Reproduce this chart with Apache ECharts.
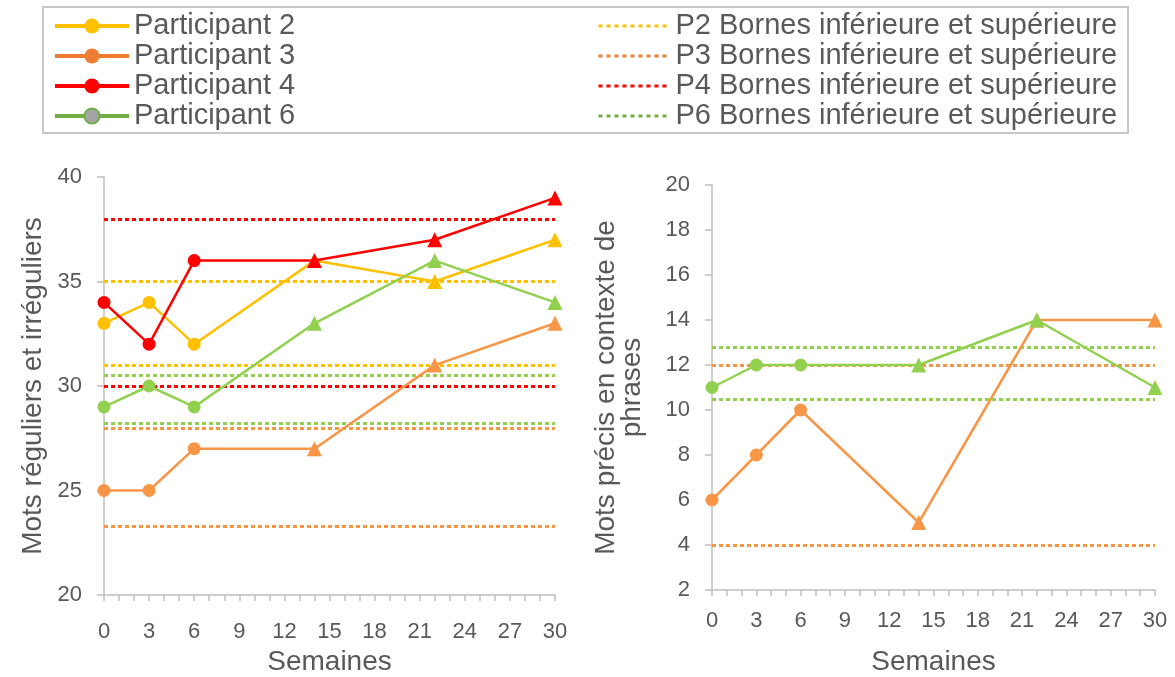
<!DOCTYPE html>
<html>
<head>
<meta charset="utf-8">
<script src="https://cdn.jsdelivr.net/npm/echarts@6/dist/echarts.min.js"></script>
<style>
html,body{margin:0;padding:0;background:#fff;}
#c{width:1175px;height:677px;}
</style>
</head>
<body>
<div id="c"></div>
<script>
// ---- data ----
const weeks = [0, 3, 6, 14, 22, 30];
const seriesNames = ['Participant 2', 'Participant 3', 'Participant 4', 'Participant 6'];
const boundNames = ['P2 Bornes inférieure et supérieure', 'P3 Bornes inférieure et supérieure',
                    'P4 Bornes inférieure et supérieure', 'P6 Bornes inférieure et supérieure'];
// Left chart: Mots réguliers et irréguliers
const leftP2 = [33, 34, 32, 36, 35, 37];
const leftP3 = [25, 25, 27, 27, 31, 33];
const leftP4 = [34, 32, 36, 36, 37, 39];
const leftP6 = [29, 30, 29, 33, 36, 34];
const leftBoundsP2 = [31, 35];
const leftBoundsP3 = [23.3, 28.0];
const leftBoundsP4 = [30, 38];
const leftBoundsP6 = [28.2, 30.5];
// Right chart: Mots précis en contexte de phrases
const rightP3 = [6, 8, 10, 5, 14, 14];
const rightP6 = [11, 12, 12, 12, 14, 11];
const rightBoundsP3 = [4, 12];
const rightBoundsP6 = [10.5, 12.8];
// baseline phase weeks use circles, later ones triangles
const baselineWeeks = [0, 3, 6];

// ---- styles ----
const chartColors = ['#FFC000', '#F79646', '#FF0000', '#92D050'];
const legendColors = ['#FFC000', '#ED7D31', '#FF0000', '#70AD47'];
const legendMarker = ['#FFC000', '#ED7D31', '#FF0000', '#A5A5A5'];
const textColor = '#595959';
const axisColor = '#BFBFBF';
const font = 'Liberation Sans, Arial, sans-serif';

function pts(vals) {
  return weeks.map((w, i) => ({
    value: [w, vals[i]],
    symbol: baselineWeeks.indexOf(w) >= 0 ? 'circle' : 'triangle',
    symbolSize: baselineWeeks.indexOf(w) >= 0 ? 13 : 15
  }));
}
function dataSeries(idx, vals, gi) {
  return {
    name: seriesNames[idx], type: 'line', xAxisIndex: gi, yAxisIndex: gi,
    data: pts(vals), symbol: 'circle', showAllSymbol: true,
    lineStyle: { color: chartColors[idx], width: 2.5 },
    itemStyle: { color: chartColors[idx] },
    z: 5, animation: false, silent: true
  };
}
function boundSeries(idx, b, gi) {
  return {
    name: boundNames[idx], type: 'line', xAxisIndex: gi, yAxisIndex: gi,
    data: [], symbol: 'none',
    lineStyle: { color: chartColors[idx], width: 3, type: [4, 3] },
    itemStyle: { color: chartColors[idx] },
    markLine: {
      silent: true, symbol: ['none', 'none'], label: { show: false },
      lineStyle: { color: chartColors[idx], width: 3, type: [4, 3] },
      emphasis: { disabled: true },
      data: b.map(v => ({ yAxis: v }))
    },
    z: 2, animation: false
  };
}
function xAxis(gi, nameGap, labelMargin) {
  return {
    type: 'value', gridIndex: gi, min: 0, max: 30, interval: 3,
    name: 'Semaines', nameLocation: 'middle', nameGap: nameGap,
    nameTextStyle: { color: textColor, fontSize: 28, fontFamily: font },
    axisLine: { show: true, lineStyle: { color: axisColor, width: 1.5 } },
    axisTick: { show: true, length: 6, lineStyle: { color: axisColor, width: 1.5 } },
    minorTick: { show: true, splitNumber: 3, length: 6, lineStyle: { color: axisColor, width: 1.5 } },
    axisLabel: { color: textColor, fontSize: 22, fontFamily: font, margin: labelMargin },
    splitLine: { show: false }
  };
}
function yAxis(gi, min, max, interval, name, nameGap, extra) {
  return Object.assign({
    type: 'value', gridIndex: gi, min: min, max: max, interval: interval,
    name: name, nameLocation: 'middle', nameGap: nameGap, nameRotate: 90,
    nameTextStyle: { color: textColor, fontSize: 28, fontFamily: font },
    axisLine: { show: true, lineStyle: { color: axisColor, width: 1.5 } },
    axisTick: { show: true, length: 7, lineStyle: { color: axisColor, width: 1.5 } },
    axisLabel: { color: textColor, fontSize: 22, fontFamily: font, margin: 22 },
    splitLine: { show: false }
  }, extra || {});
}

const legendText = { color: textColor, fontSize: 29, fontFamily: font, lineHeight: 30 };

const option = {
  backgroundColor: '#fff',
  animation: false,
  graphic: [{
    type: 'rect', shape: { x: 43, y: 7, width: 1085, height: 126 },
    style: { fill: 'none', stroke: '#C8C8C8', lineWidth: 2 }, silent: true
  }],
  legend: [{
    orient: 'vertical', left: 48, top: 6, itemGap: 0, itemWidth: 74, itemHeight: 19,
    textStyle: legendText, selectedMode: false,
    data: seriesNames.map((n, i) => ({
      name: n,
      itemStyle: { color: legendMarker[i], borderColor: legendColors[i], borderWidth: i === 3 ? 2 : 0 },
      lineStyle: { color: legendColors[i], width: 4 }
    }))
  }, {
    orient: 'vertical', left: 592, top: 6, itemGap: 0, itemWidth: 72, itemHeight: 15,
    textStyle: legendText, selectedMode: false,
    data: boundNames.map((n, i) => ({
      name: n,
      itemStyle: { opacity: 0 },
      lineStyle: { color: legendColors[i], width: 3, type: [4, 4], opacity: 1 }
    }))
  }],
  grid: [
    { left: 104, top: 177, width: 451, height: 418, outerBoundsMode: 'none', containLabel: false },
    { left: 712, top: 185, width: 443, height: 405, outerBoundsMode: 'none', containLabel: false }
  ],
  xAxis: [xAxis(0, 49, 26), xAxis(1, 58, 20)],
  yAxis: [
    yAxis(0, 20, 40, 5, 'Mots réguliers et irréguliers', 57),
    yAxis(1, 2, 20, 2, 'Mots précis en contexte de\nphrases', 67,
      { nameTextStyle: { color: textColor, fontSize: 28, fontFamily: font, lineHeight: 26 } })
  ],
  series: [
    boundSeries(0, leftBoundsP2, 0),
    boundSeries(1, leftBoundsP3, 0),
    boundSeries(2, leftBoundsP4, 0),
    boundSeries(3, leftBoundsP6, 0),
    dataSeries(0, leftP2, 0),
    dataSeries(1, leftP3, 0),
    dataSeries(2, leftP4, 0),
    dataSeries(3, leftP6, 0),
    boundSeries(1, rightBoundsP3, 1),
    boundSeries(3, rightBoundsP6, 1),
    dataSeries(1, rightP3, 1),
    dataSeries(3, rightP6, 1)
  ]
};

const chart = echarts.init(document.getElementById('c'), null, { renderer: 'canvas' });
chart.setOption(option);
</script>
</body>
</html>
